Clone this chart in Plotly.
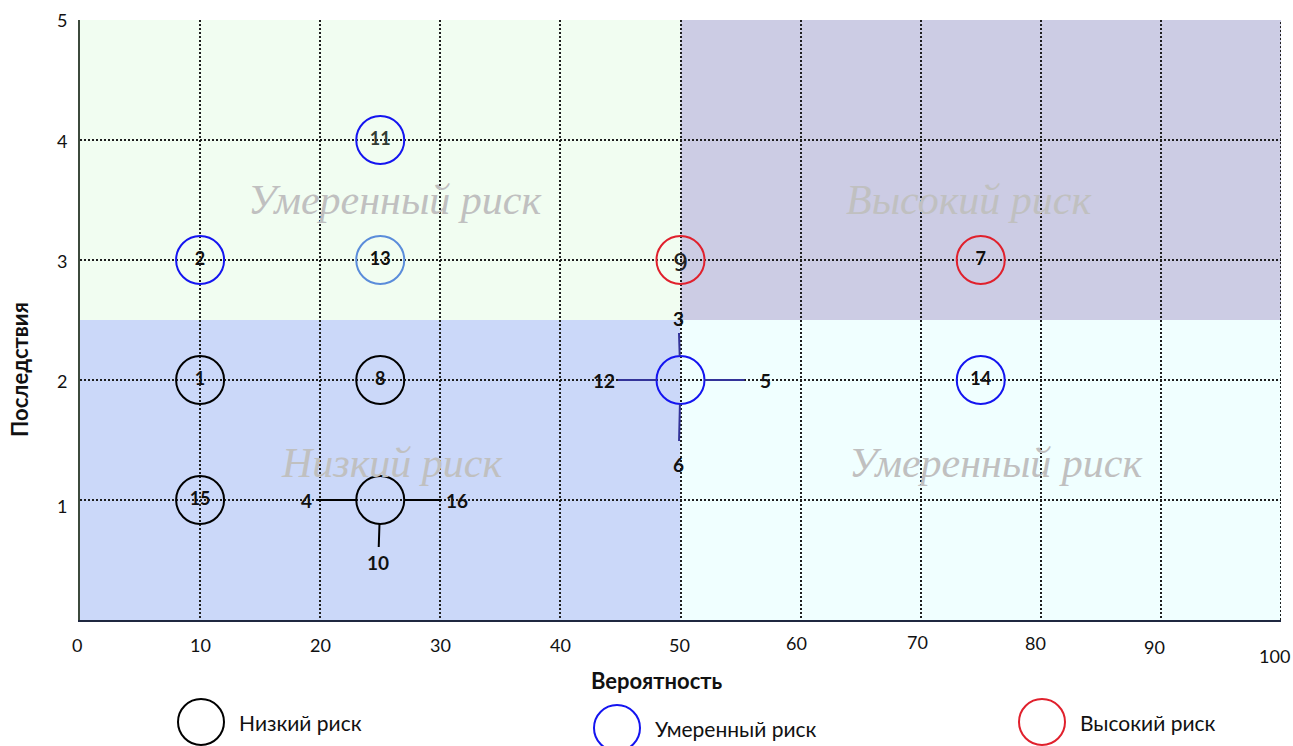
import plotly.graph_objects as go

# Risk register: id, probability (%), consequence score, risk level
risk_ids = [1, 2, 3, 4, 5, 6, 7, 8, 9, 10, 11, 12, 13, 14, 15, 16]
probability = [10, 10, 50, 25, 50, 50, 75, 25, 50, 25, 25, 50, 25, 75, 10, 25]
consequence = [2, 3, 2, 1, 2, 2, 3, 2, 3, 1, 4, 2, 3, 2, 1, 1]
risk_level = ["low", "moderate", "moderate", "low", "moderate", "moderate", "high",
              "low", "high", "low", "moderate", "moderate", "moderate", "moderate",
              "low", "low"]

level_names = {"low": "Низкий риск", "moderate": "Умеренный риск", "high": "Высокий риск"}

# Zones of the matrix (probability range, consequence range, label)
zone_prob = [(0, 50), (50, 100), (0, 50), (50, 100)]
zone_cons = [(2.5, 5), (2.5, 5), (0, 2.5), (0, 2.5)]
zone_names = ["Умеренный риск", "Высокий риск", "Низкий риск", "Умеренный риск"]

x_ticks = [0, 10, 20, 30, 40, 50, 60, 70, 80, 90, 100]
y_ticks = [1, 2, 3, 4, 5]

# ---- styling ----
level_color = {"low": "#000000", "moderate": "#1414F0", "high": "#E0202C"}
id_color_override = {13: "#5A8CDA"}
id_text_color = {11: "#333B33"}
zone_fill = ["#F1FDF1", "#CCCCE4", "#CBD8F9", "#F0FFFF"]
zone_label_pos = [(26.2, 3.5), (74.0, 3.5), (26.0, 1.31), (76.3, 1.31)]
leader_color = {(25, 1): "#000000", (50, 2): "#333399"}
# label offset (pixels) and gap for risks that share one cell
leader_offset = {4: (-74, 0, 4), 16: (77, 0, 3), 10: (-2, 62, 2),
                 3: (-2, -62, 2), 12: (-77, 0, 2), 5: (85, 0, 14), 6: (-2, 84, 10)}
# small per-label nudges of the tick labels (pixels)
x_tick_shift = [(-3, 0), (0, 0), (0, 0), (0, 0), (0, 0), (-1, 0), (-4, 2), (-3, 3),
                (-5, 2), (-6, -2), (-7, -11)]
y_tick_shift = [-6, -1, -1, -1, 0]
FONT = "Lato"
R_PX = 24  # circle radius in pixels
L, T, W, H = 80, 20, 1201, 600  # plot area in pixels

fig = go.Figure()

shapes = []
annotations = []
for (x0, x1), (y0, y1), fill in zip(zone_prob, zone_cons, zone_fill):
    shapes.append(dict(type="rect", xref="x", yref="y", x0=x0, x1=x1, y0=y0, y1=y1,
                       fillcolor=fill, line=dict(width=0), layer="below"))
for name, (lx, ly) in zip(zone_names, zone_label_pos):
    annotations.append(dict(x=lx, y=ly, xref="x", yref="y", text="<i>%s</i>" % name,
                            showarrow=False,
                            font=dict(family="Liberation Serif", size=42, color="#C0C0C0"),
                            xanchor="center", yanchor="middle"))

# right border of the grid (dotted, like the grid lines)
shapes.append(dict(type="line", xref="x", yref="y", x0=100, x1=100, y0=0, y1=5,
                   line=dict(color="#1E1E1E", width=2, dash="2px,2px")))

# group risks by cell
cells = {}
for rid, p, c, lvl in zip(risk_ids, probability, consequence, risk_level):
    cells.setdefault((p, c), []).append((rid, lvl))

cx, cy, ccol, ctext, ctcol = [], [], [], [], []
for (p, c), members in cells.items():
    rid0, lvl0 = members[0]
    cx.append(p)
    cy.append(c)
    ccol.append(id_color_override.get(rid0, level_color[lvl0]) if len(members) == 1
                else level_color[lvl0])
    ctcol.append(id_text_color.get(rid0, "#111111"))
    if len(members) == 1:
        if rid0 == 9:
            ctext.append("")
            annotations.append(dict(x=p, y=c, xref="x", yref="y", text=str(rid0),
                                    showarrow=False, yshift=-3,
                                    font=dict(family="DejaVu Sans", size=24, color="#222222")))
        else:
            ctext.append("<b>%d</b>" % rid0)
    else:
        ctext.append("")
        for rid, lvl in members:
            ax, ay, sso = leader_offset[rid]
            annotations.append(dict(x=p, y=c, xref="x", yref="y", text="<b>%d</b>" % rid,
                                    showarrow=True, arrowhead=0, arrowwidth=2,
                                    arrowcolor=leader_color[(p, c)], ax=ax, ay=ay,
                                    standoff=R_PX, startstandoff=sso,
                                    font=dict(family=FONT, size=19, color="#111111")))

fig.add_trace(go.Scatter(
    x=cx, y=cy, mode="markers+text", text=ctext, textposition="middle center",
    textfont=dict(family=FONT, size=18, color=ctcol),
    marker=dict(symbol="circle-open", size=2 * R_PX, color=ccol,
                line=dict(width=2, color=ccol)),
    showlegend=False, hoverinfo="skip"))

# tick labels
for v, (dx, dy) in zip(x_ticks, x_tick_shift):
    annotations.append(dict(x=v, y=0, xref="x", yref="paper", text=str(v), showarrow=False,
                            xanchor="center", yanchor="middle", xshift=dx, yshift=-25 + dy,
                            font=dict(family=FONT, size=18, color="#111111")))
for v, dy in zip(y_ticks, y_tick_shift):
    annotations.append(dict(x=0, y=v, xref="paper", yref="y", text=str(v), showarrow=False,
                            xanchor="center", yanchor="middle", xshift=-18, yshift=dy,
                            font=dict(family=FONT, size=18, color="#111111")))

# legend drawn below the chart
legend_px = [(201, 722, "low"), (617, 728, "moderate"), (1042, 722, "high")]
for px, py, lvl in legend_px:
    xp = (px - L) / W
    yp = (T + H - py) / H
    shapes.append(dict(type="circle", xref="paper", yref="paper", xsizemode="pixel",
                       ysizemode="pixel", xanchor=xp, yanchor=yp, x0=-23, x1=23,
                       y0=-23, y1=23, line=dict(color=level_color[lvl], width=2)))
    annotations.append(dict(x=(px + 36 - L) / W, y=yp, xref="paper", yref="paper",
                            text=level_names[lvl], showarrow=False, xanchor="left",
                            yanchor="middle",
                            font=dict(family=FONT, size=21, color="#111111")))

# axis titles
annotations.append(dict(x=(657 - L) / W, y=(T + H - 680) / H, xref="paper", yref="paper",
                        text="<b>Вероятность</b>", showarrow=False, xanchor="center",
                        yanchor="middle",
                        font=dict(family=FONT, size=22, color="#111111")))
annotations.append(dict(x=(20 - L) / W, y=(T + H - 370) / H, xref="paper", yref="paper",
                        text="<b>Последствия</b>", showarrow=False, textangle=-90,
                        xanchor="center", yanchor="middle",
                        font=dict(family=FONT, size=22, color="#111111")))

grid = dict(showgrid=True, gridcolor="#1E1E1E", gridwidth=1.5, griddash="2px,2px",
            zeroline=False, ticks="", showticklabels=False)

fig.update_layout(
    width=1293, height=746,
    margin=dict(l=L, r=1293 - L - W, t=T, b=746 - T - H),
    paper_bgcolor="white", plot_bgcolor="white",
    xaxis=dict(range=[0, 100], tickvals=x_ticks,
               showline=True, linecolor="#1F2840", linewidth=2, **grid),
    yaxis=dict(range=[0, 5], tickvals=y_ticks,
               showline=True, linecolor="#3C4A3C", linewidth=2, **grid),
    shapes=shapes, annotations=annotations, showlegend=False,
)

fig.write_html("out.html")
